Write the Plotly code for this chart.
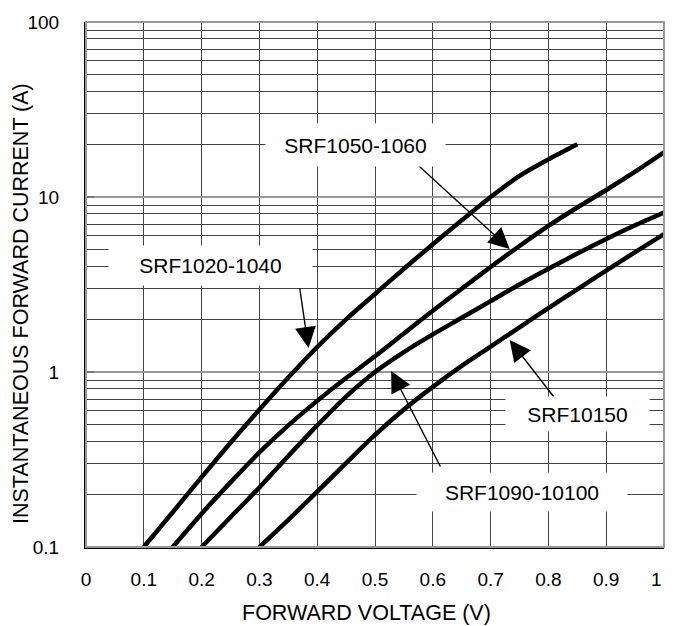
import plotly.graph_objects as go

# ---- data ----
v_1020 = [0.10, 0.15, 0.20, 0.25, 0.30, 0.35, 0.40, 0.45, 0.50, 0.55, 0.60, 0.65, 0.70, 0.75, 0.80, 0.85]
i_1020 = [0.10, 0.158, 0.251, 0.394, 0.61, 0.93, 1.39, 2.00, 2.79, 3.89, 5.37, 7.36, 10.0, 13.2, 16.4, 20.0]

v_1050 = [0.15, 0.20, 0.25, 0.30, 0.35, 0.40, 0.45, 0.50, 0.55, 0.60, 0.65, 0.70, 0.75, 0.80, 0.85, 0.90, 0.95, 1.00]
i_1050 = [0.10, 0.155, 0.234, 0.347, 0.495, 0.684, 0.923, 1.23, 1.66, 2.24, 2.99, 3.98, 5.25, 6.84, 8.71, 10.96, 13.96, 18.0]

v_1090 = [0.20, 0.25, 0.30, 0.35, 0.40, 0.45, 0.50, 0.55, 0.60, 0.65, 0.70, 0.75, 0.80, 0.85, 0.90, 0.95, 1.00]
i_1090 = [0.10, 0.148, 0.219, 0.331, 0.495, 0.724, 1.00, 1.30, 1.64, 2.04, 2.54, 3.16, 3.89, 4.75, 5.75, 6.89, 8.15]

v_10150 = [0.30, 0.35, 0.40, 0.45, 0.50, 0.55, 0.60, 0.65, 0.70, 0.75, 0.80, 0.85, 0.90, 0.95, 1.00]
i_10150 = [0.10, 0.143, 0.207, 0.302, 0.437, 0.61, 0.822, 1.084, 1.396, 1.80, 2.32, 2.97, 3.80, 4.84, 6.14]

x_ticks = [0, 0.1, 0.2, 0.3, 0.4, 0.5, 0.6, 0.7, 0.8, 0.9, 1.0]
x_tick_text = ["0", "0.1", "0.2", "0.3", "0.4", "0.5", "0.6", "0.7", "0.8", "0.9", ""]
x_last_label = "1"
y_ticks = [0.1, 1, 10, 100]
y_tick_text = ["0.1", "1", "10", "100"]
y_minor = [m * d for d in (0.1, 1, 10) for m in range(2, 10)]

FONT = "Arial, Liberation Sans, sans-serif"

fig = go.Figure()
for xs, ys in [(v_1020, i_1020), (v_1050, i_1050), (v_1090, i_1090), (v_10150, i_10150)]:
    fig.add_trace(go.Scatter(x=xs, y=ys, mode="lines",
                             line=dict(color="black", width=4.5, shape="spline", smoothing=0.8),
                             showlegend=False, hoverinfo="skip"))

ann = []
# arrows (tip in data coords [x, log10 y], tail offset in px)
arrows = [
    (0.733, 0.703, -92, -84),
    (0.385, 0.137, -9, -61),
    (0.733, 0.183, 45, 58),
    (0.528, 0.006, 50, 97),
]
for x, ly, ax, ay in arrows:
    ann.append(dict(x=x, y=ly, xref="x", yref="y", ax=ax, ay=ay, text="", showarrow=True,
                    arrowhead=2, arrowsize=3, arrowwidth=1.4, arrowcolor="black", standoff=0))
labels = [
    ("SRF1050-1060", 0.466, 1.297, 177, 40),
    ("SRF1020-1040", 0.215, 0.606, 201, 37),
    ("SRF10150", 0.850, -0.24, 141, 32),
    ("SRF1090-10100", 0.754, -0.686, 208, 36),
]
for t, x, ly, w, h in labels:
    ann.append(dict(x=x, y=ly, xref="x", yref="y", text=t, showarrow=False, bgcolor="white",
                    xanchor="center", yanchor="middle",
                    width=w, height=h, font=dict(family=FONT, size=21, color="black")))
# last x tick label kept inside the visible page
ann.append(dict(x=1, y=(547 - 579) / 525, xref="paper", yref="paper", xanchor="right", yanchor="middle",
                text=x_last_label, showarrow=False, font=dict(family=FONT, size=19, color="black")))
# axis titles
ann.append(dict(x=(21 - 86) / 578, y=(547 - 304) / 525, xref="paper", yref="paper",
                xanchor="center", yanchor="middle",
                text="INSTANTANEOUS FORWARD CURRENT (A)", textangle=-90, showarrow=False,
                font=dict(family=FONT, size=21.5, color="black")))
ann.append(dict(x=(366 - 86) / 578, y=(547 - 613) / 525, xref="paper", yref="paper",
                xanchor="center", yanchor="middle",
                text="FORWARD VOLTAGE (V)", showarrow=False,
                font=dict(family=FONT, size=21.5, color="black")))

# page body has an 8px margin; size the figure so the plot area lands where the reference has it
fig.update_layout(
    width=657, height=618,
    margin=dict(l=78, r=1, t=14, b=79, autoexpand=False),
    paper_bgcolor="white", plot_bgcolor="white",
    annotations=ann,
    shapes=[dict(type="rect", xref="paper", yref="paper", x0=0, y0=0, x1=1, y1=1,
                 line=dict(color="#999999", width=2), layer="above")],
    xaxis=dict(range=[0, 1], tickvals=x_ticks, ticktext=x_tick_text, showgrid=True, gridcolor="#444444",
               gridwidth=1, zeroline=False, showline=True, linecolor="black", linewidth=2, ticks="",
               ticklabelstandoff=14, automargin=False,
               tickfont=dict(family=FONT, size=19, color="black")),
    yaxis=dict(type="log", range=[-1, 2], tickvals=y_ticks, ticktext=y_tick_text, showgrid=True,
               gridcolor="#999999", gridwidth=2, zeroline=False, showline=True, linecolor="black", linewidth=2,
               ticks="inside", ticklen=8, tickwidth=2, tickcolor="#777777", ticklabelstandoff=21,
               automargin=False, tickfont=dict(family=FONT, size=19, color="black"),
               minor=dict(tickvals=y_minor, showgrid=True, gridcolor="#444444", gridwidth=1, ticks="")),
)
fig.write_html("out.html")
